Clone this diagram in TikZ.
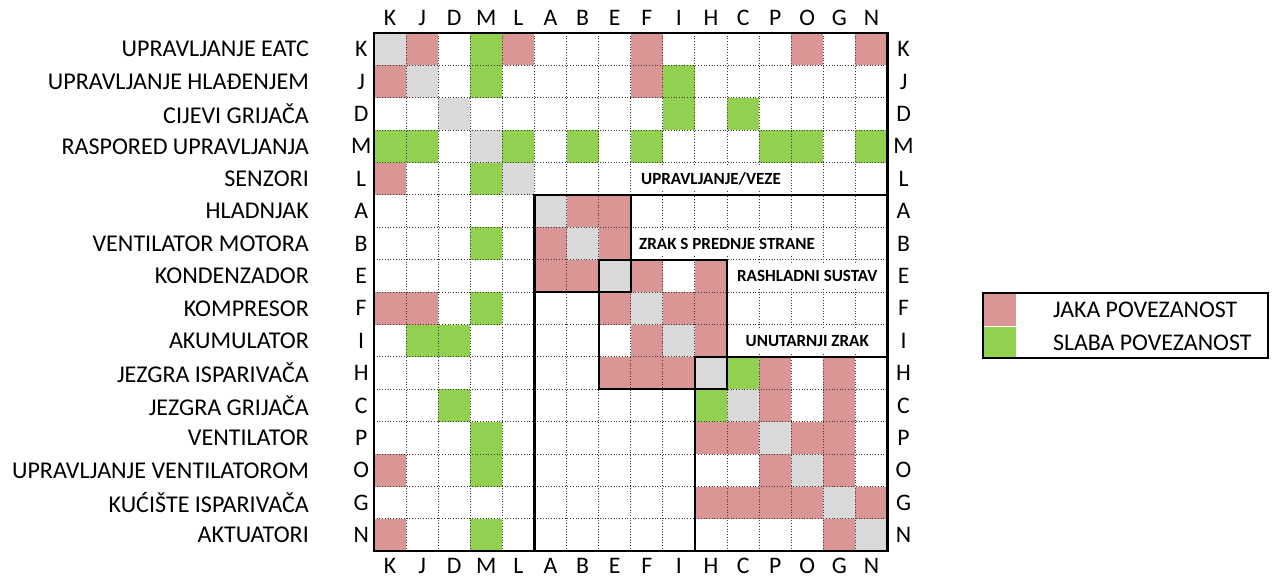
\documentclass[tikz,border=0pt]{standalone}
\usepackage{fontspec}
\setmainfont{Carlito}
\usepackage{tikz}
\usetikzlibrary{positioning}
\definecolor{strongRed}{HTML}{DA9694}
\definecolor{weakGreen}{HTML}{92D050}
\definecolor{diagGray}{HTML}{D9D9D9}
\definecolor{gridLine}{HTML}{3A3A3A}

\begin{document}
\begin{tikzpicture}[
    x=0.02cm, y=-0.02cm,
    % ── shared styles ───────────────────────────────────────────────
    cell/.style={
        rectangle, inner sep=0pt,
        minimum width=0.642cm, minimum height=0.648cm,
    },
    strong cell/.style={cell, fill=strongRed},
    weak cell/.style={cell, fill=weakGreen},
    diag cell/.style={cell, fill=diagGray},
    grid line/.style={gridLine, densely dotted, line width=0.55pt},
    block line/.style={black, line width=1.3pt},
    row name/.style={
        anchor=east, inner sep=0pt,
        font=\fontsize{13.7}{16}\selectfont,
    },
    letter/.style={
        inner sep=0pt,
        font=\fontsize{13.5}{16}\selectfont,
    },
    block label/.style={
        fill=white, inner sep=0pt,
        minimum height=0.5cm,
        font=\fontsize{9.7}{11.6}\selectfont\bfseries,
    },
    legend swatch/.style={
        rectangle, inner sep=0pt, anchor=north west,
        minimum width=0.66cm, minimum height=0.65cm,
    },
    legend text/.style={
        inner sep=0pt,
        font=\fontsize{13.6}{16}\selectfont,
    },
]

\useasboundingbox (0,0) rectangle (1275,580);

% =============================================================
%  DSM MATRIX  (one unit = one cell)
% =============================================================
\begin{scope}[shift={(374,33)}, x=0.642cm, y=-0.648cm]

% Names, letters and diagonal
\foreach \n/\txt [count=\i from 0] in {
    K/UPRAVLJANJE EATC, J/UPRAVLJANJE HLAĐENJEM, D/CIJEVI GRIJAČA,
    M/RASPORED UPRAVLJANJA, L/SENZORI, A/HLADNJAK, B/VENTILATOR MOTORA,
    E/KONDENZADOR, F/KOMPRESOR, I/AKUMULATOR, H/JEZGRA ISPARIVAČA,
    C/JEZGRA GRIJAČA, P/VENTILATOR, O/UPRAVLJANJE VENTILATOROM,
    G/KUĆIŠTE ISPARIVAČA, N/AKTUATORI}
{
    \node[row name] (name\n) at (-2.02, \i+0.5) {\txt};
    \node[letter] (left\n) at (-0.4, \i+0.5) {\n};
    \node[letter] (right\n) at (16.5, \i+0.5) {\n};
    \node[letter] (top\n) at (\i+0.5, -0.47) {\n};
    \node[letter] (bottom\n) at (\i+0.5, 16.45) {\n};
    \node[diag cell] (d\n) at (\i+0.5, \i+0.5) {};
}

% Strong links (row/column)
\foreach \r/\c in {0/1, 0/4, 0/8, 0/13, 0/15, 1/0, 1/8, 4/0,
    5/6, 5/7, 6/5, 6/7, 7/5, 7/6, 7/8, 7/10,
    8/0, 8/1, 8/7, 8/9, 8/10, 9/8, 9/10,
    10/7, 10/8, 10/9, 10/12, 10/14, 11/12, 11/14,
    12/10, 12/11, 12/13, 12/14, 13/0, 13/12, 13/14,
    14/10, 14/11, 14/12, 14/13, 14/15, 15/0, 15/14}
    \node[strong cell] (s\r-\c) at (\c+0.5, \r+0.5) {};

% Weak links (row/column)
\foreach \r/\c in {0/3, 1/3, 1/9, 2/9, 2/11,
    3/0, 3/1, 3/4, 3/6, 3/8, 3/12, 3/13, 3/15,
    4/3, 6/3, 8/3, 9/1, 9/2, 10/11, 11/2, 11/10,
    12/3, 13/3, 15/3}
    \node[weak cell] (w\r-\c) at (\c+0.5, \r+0.5) {};

% Dotted grid
\foreach \k in {1,...,15} {
    \draw[grid line] (\k,0) -- (\k,16);
    \draw[grid line] (0,\k) -- (16,\k);
}

% Block labels (merged cells)
\node[block label, minimum width=3.1cm] (lblControl) at (10.5, 4.5)
    {UPRAVLJANJE/VEZE};
\node[block label, minimum width=3.75cm] (lblFront) at (11, 6.5)
    {ZRAK S PREDNJE STRANE};
\node[block label, minimum width=3.1cm] (lblCool) at (13.5, 7.5)
    {RASHLADNI SUSTAV};
\node[block label, minimum width=3.1cm] (lblInner) at (13.5, 9.5)
    {UNUTARNJI ZRAK};

% Block borders
\draw[block line] (0,0) rectangle (16,16);
\draw[block line] (5,16) -- (5,5) -- (16,5);
\draw[block line] (5,5) rectangle (8,8);
\draw[block line] (7,7) rectangle (11,11);
\draw[block line] (10,10) rectangle (16,16);

\end{scope}

% =============================================================
%  Legend
% =============================================================
\node[legend swatch, fill=strongRed] (legStrong) at (983,293) {};
\node[legend swatch, fill=weakGreen, below=0pt of legStrong] (legWeak) {};
\node[legend text, right=0.72cm of legStrong.east] {JAKA POVEZANOST};
\node[legend text, right=0.72cm of legWeak.east] {SLABA POVEZANOST};
\draw[block line] (legStrong.north west) rectangle (1268,358);

\end{tikzpicture}
\end{document}
